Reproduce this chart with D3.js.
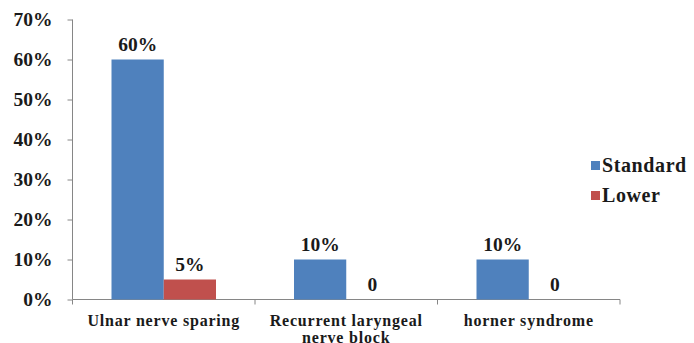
<!DOCTYPE html>
<html>
<head>
<meta charset="utf-8">
<script src="https://cdn.jsdelivr.net/npm/d3@7"></script>
</head>
<body style="margin:0;background:#fff">
<svg id="chart"></svg>
<script>
const categories = [["Ulnar nerve sparing"], ["Recurrent laryngeal", "nerve block"], ["horner syndrome"]];
const seriesNames = ["Standard", "Lower"];
const standardValues = [0.60, 0.10, 0.10];
const lowerValues = [0.05, 0, 0];
const standardLabels = ["60%", "10%", "10%"];
const lowerLabels = ["5%", "0", "0"];
const yTicks = [0, 0.1, 0.2, 0.3, 0.4, 0.5, 0.6, 0.7];
const colors = ["#4F81BD", "#C0504D"];

const width = 694, height = 343;
const margin = { top: 19.5, left: 72.5, bottom: 43.5, right: 74 };
const innerWidth = width - margin.left - margin.right;
const innerHeight = height - margin.top - margin.bottom;

const svg = d3.select("#chart").attr("width", width).attr("height", height)
  .attr("font-family", "Liberation Serif").attr("font-weight", "bold");
const g = svg.append("g").attr("transform", "translate(" + margin.left + "," + margin.top + ")");

const xScale = d3.scaleBand().domain(d3.range(categories.length)).range([0, innerWidth]).paddingInner(0).paddingOuter(0);
const innerX = d3.scaleBand().domain(seriesNames).range([39, xScale.bandwidth() - 39]);
const yScale = d3.scaleLinear().domain([0, 0.7]).range([innerHeight, 0]);

function styleText(sel, size) {
  return sel.attr("font-family", "Liberation Serif").attr("font-weight", "bold").attr("font-size", size).attr("fill", "#1a1a1a");
}

// y axis
const yAxis = d3.axisLeft(yScale).tickValues(yTicks).tickFormat(d3.format(".0%")).tickSize(5).tickPadding(15);
const yg = g.append("g").call(yAxis).attr("font-family", "Liberation Serif");
yg.select(".domain").attr("stroke", "#868686").attr("d", "M0," + innerHeight + "V0");
yg.selectAll(".tick line").attr("stroke", "#868686");
styleText(yg.selectAll(".tick text"), 19.5);

// x axis
const xg = g.append("g").attr("transform", "translate(0," + innerHeight + ")");
xg.append("line").attr("x1", 0).attr("x2", innerWidth).attr("stroke", "#868686");
xg.selectAll(".xtick").data(d3.range(categories.length + 1)).enter().append("line")
  .attr("x1", d => d * xScale.step()).attr("x2", d => d * xScale.step())
  .attr("y1", 0).attr("y2", 5).attr("stroke", "#868686");

const catLabels = styleText(xg.selectAll(".cat").data(categories).enter().append("text"), 16)
  .attr("x", (d, i) => xScale(i) + xScale.bandwidth() / 2)
  .attr("y", 26)
  .attr("letter-spacing", 0.8)
  .attr("text-anchor", "middle");
catLabels.each(function(d) {
  d3.select(this).selectAll("tspan").data(d).enter().append("tspan")
    .attr("x", d3.select(this).attr("x"))
    .attr("dy", (t, j) => j === 0 ? 0 : 17)
    .text(t => t);
});

// bars
const series = [standardValues, lowerValues];
const labels = [standardLabels, lowerLabels];
series.forEach((vals, s) => {
  g.selectAll(".bar" + s).data(vals).enter().append("rect")
    .attr("x", (d, i) => xScale(i) + innerX(seriesNames[s]))
    .attr("y", d => yScale(d))
    .attr("width", innerX.bandwidth())
    .attr("height", d => innerHeight - yScale(d))
    .attr("fill", colors[s]);
  styleText(g.selectAll(".lab" + s).data(vals).enter().append("text"), 19.5)
    .attr("x", (d, i) => xScale(i) + innerX(seriesNames[s]) + innerX.bandwidth() / 2)
    .attr("y", d => yScale(d) - 9)
    .attr("text-anchor", "middle")
    .text((d, i) => labels[s][i]);
});

// legend
const legend = svg.append("g").attr("transform", "translate(591,161)");
seriesNames.forEach((name, i) => {
  legend.append("rect").attr("x", 0).attr("y", i * 30).attr("width", 9).attr("height", 9).attr("fill", colors[i]);
  styleText(legend.append("text"), 20).attr("x", 11).attr("y", i * 30 + 11).attr("letter-spacing", 0.6).text(name);
});
</script>
</body>
</html>
